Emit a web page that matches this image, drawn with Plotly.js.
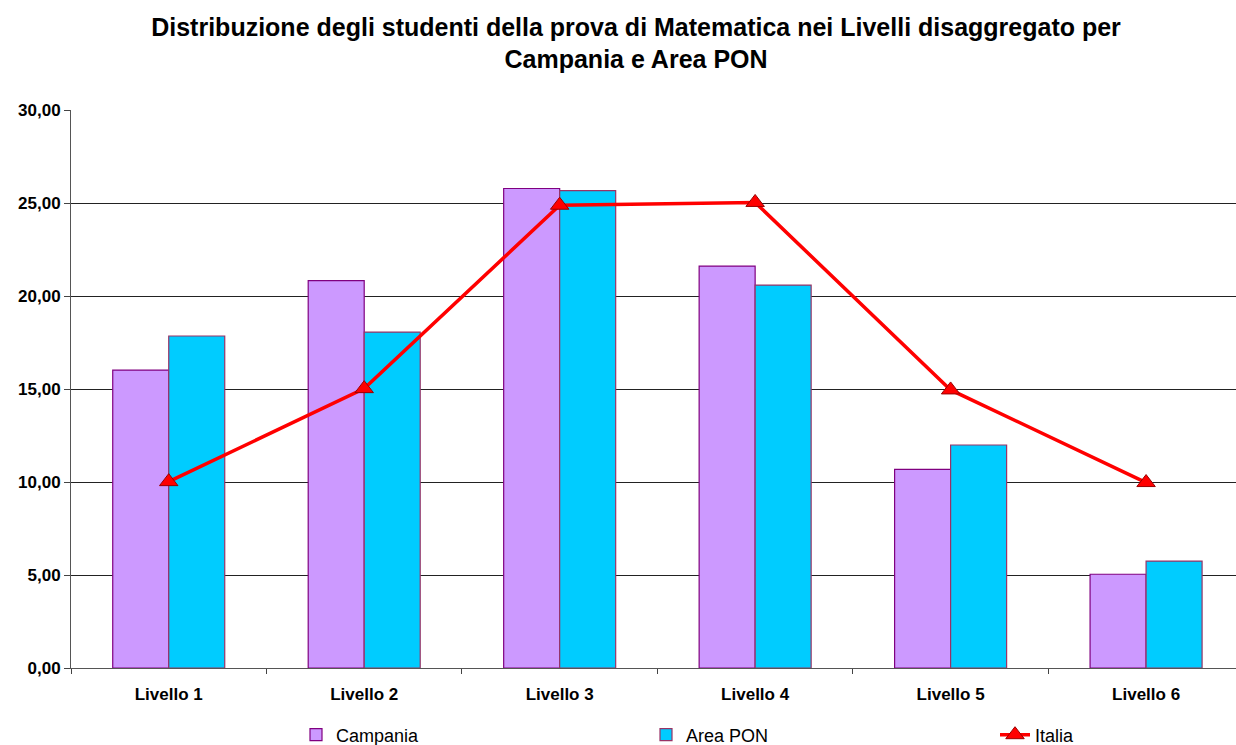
<!DOCTYPE html>
<html>
<head>
<meta charset="utf-8">
<script src="https://cdn.plot.ly/plotly-3.0.1.min.js"></script>
<style>html,body{margin:0;padding:0;background:#fff;}#chart{width:1236px;height:745px;}</style>
</head>
<body>
<div id="chart"></div>
<script>
var categories = ["Livello 1", "Livello 2", "Livello 3", "Livello 4", "Livello 5", "Livello 6"];
var campania = [16.02, 20.83, 25.78, 21.61, 10.68, 5.04];
var areaPon = [17.85, 18.06, 25.67, 20.59, 11.99, 5.75];
var italia = [10.02, 15.02, 24.88, 25.03, 14.95, 9.97];
var yTicks = [0, 5, 10, 15, 20, 25, 30];

var FONT = "Arial, Liberation Sans, sans-serif";

var traces = [
  {type: "bar", name: "Campania", x: categories, y: campania, legend: "legend",
   marker: {color: "#CC99FF", line: {color: "#800080", width: 1.2}}},
  {type: "bar", name: "Area PON", x: categories, y: areaPon, legend: "legend2",
   marker: {color: "#00CCFF", line: {color: "#993366", width: 1.2}}},
  {type: "scatter", mode: "lines+markers", name: "Italia", x: categories, y: italia, legend: "legend3",
   line: {color: "#FF0000", width: 3.5},
   marker: {symbol: "triangle-up", size: 16, color: "#FF0000", line: {color: "#990000", width: 1}}}
];

function leg(px) {
  return {xref: "container", yref: "container", x: px / 1236, xanchor: "left",
          y: 10 / 745, yanchor: "middle", orientation: "h", bgcolor: "rgba(0,0,0,0)",
          font: {family: FONT, size: 18, color: "#000"}};
}

var layout = {
  width: 1236, height: 745,
  paper_bgcolor: "#fff", plot_bgcolor: "#fff",
  separators: ",.",
  margin: {l: 71, r: 0, t: 110, b: 77, autoexpand: false},
  title: {text: "<b>Distribuzione degli studenti della prova di Matematica nei Livelli disaggregato per<br>Campania e Area PON</b>",
          font: {family: FONT, size: 25, color: "#000"},
          xref: "container", x: 0.5146, xanchor: "center", yref: "container", y: 0.952, yanchor: "top"},
  barmode: "group", bargap: 0.427, bargroupgap: 0,
  showlegend: true,
  legend: leg(296),
  legend2: leg(646),
  legend3: leg(995),
  xaxis: {type: "category", range: [-0.5, 5.46], tickson: "boundaries",
          ticks: "outside", ticklen: 5, tickcolor: "#444", ticklabelstandoff: 11,
          showline: true, linecolor: "#555", linewidth: 1,
          showgrid: false, zeroline: false,
          tickfont: {family: FONT, size: 17, color: "#000", weight: "bold"}},
  yaxis: {range: [0, 30], tickvals: yTicks, tickformat: ".2f",
          ticks: "outside", ticklen: 6, tickcolor: "#444",
          showline: true, linecolor: "#555", linewidth: 1,
          showgrid: true, gridcolor: "#222", gridwidth: 1, zeroline: false,
          tickfont: {family: FONT, size: 17, color: "#000", weight: "bold"}}
};

Plotly.newPlot("chart", traces, layout, {displayModeBar: false, staticPlot: true});
</script>
</body>
</html>
